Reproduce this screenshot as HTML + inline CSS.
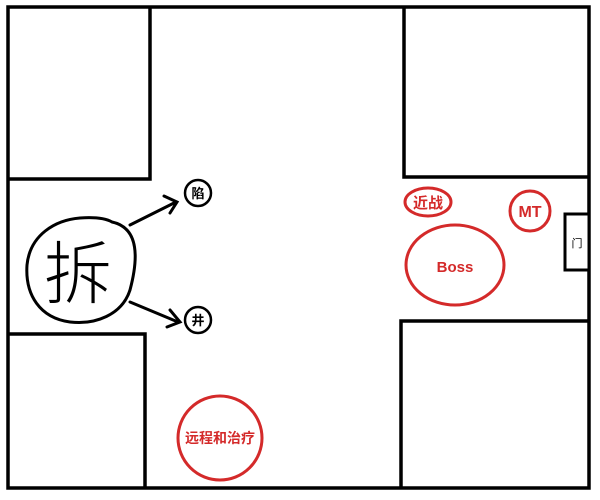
<html><body style="margin:0;background:#fff">
<svg width="600" height="500" xmlns="http://www.w3.org/2000/svg" style="display:block">
<g stroke="#000" stroke-width="3.5" fill="none">
<rect x="8" y="7" width="581" height="481"/>
<polyline points="150,7 150,179 8,179"/>
<polyline points="8,334 145,334 145,488"/>
<polyline points="404,7 404,177 589,177"/>
<polyline points="401,488 401,321 589,321"/>
<rect x="565" y="214" width="24" height="56" stroke-width="3" fill="#fff"/>
</g>
<g stroke="#000" stroke-width="3" fill="none" stroke-linecap="round">
<path d="M112,222 C140,228 138,260 130,290 C122,315 95,325 70,322 C40,318 25,295 27,265 C30,235 55,220 80,218 C95,217 105,218 112,222"/>
<path d="M130,225 L176,202 M164,196 L177,202 L170,213"/>
<path d="M130,302 L178,322 M170,310 L180,322 L167,327"/>
<circle cx="198" cy="193" r="13" stroke-width="2.5"/>
<circle cx="198" cy="320" r="13" stroke-width="2.5"/>
</g>
<text x="78" y="298" font-size="68" text-anchor="middle" font-family="Noto Sans CJK SC,sans-serif" font-weight="300" fill="#000">拆</text>
<g font-family="Liberation Sans,Noto Sans CJK SC,sans-serif" font-weight="bold" text-anchor="middle">
<text x="198" y="198" font-size="13">陷</text>
<text x="198" y="325" font-size="13">井</text>
<text x="577" y="247" font-size="11" font-weight="normal">门</text>
</g>
<g stroke="#d42a2a" stroke-width="3" fill="none">
<ellipse cx="455" cy="265" rx="49" ry="40"/>
<ellipse cx="428" cy="202" rx="23" ry="14"/>
<circle cx="530" cy="211" r="20"/>
<circle cx="220" cy="438" r="42"/>
</g>
<g fill="#d42a2a" font-family="Liberation Sans,Noto Sans CJK SC,sans-serif" font-weight="bold" text-anchor="middle">
<text x="455" y="272" font-size="15">Boss</text>
<text x="428" y="208" font-size="15">近战</text>
<text x="530" y="217" font-size="16">MT</text>
<text x="220" y="443" font-size="14">远程和治疗</text>
</g>
</svg>
</body></html>
